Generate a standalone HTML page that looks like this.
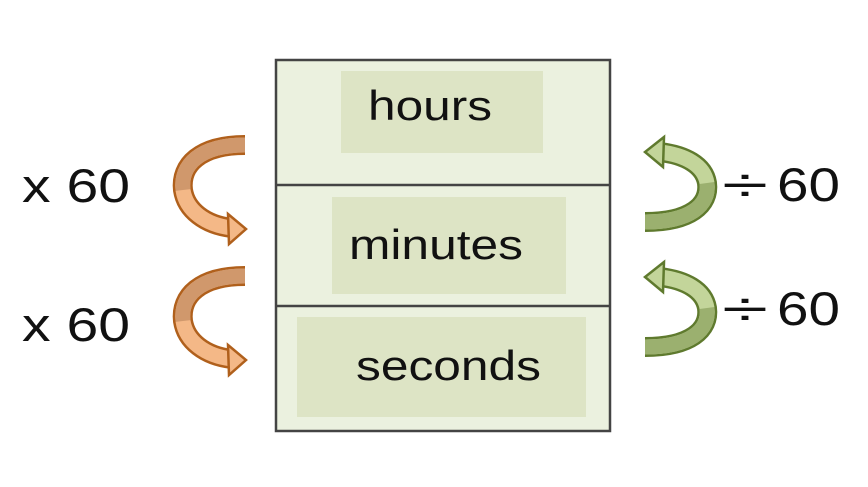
<!DOCTYPE html>
<html><head><style>
body{margin:0;width:868px;height:482px;background:#fff;overflow:hidden}
</style></head><body>
<svg width="868" height="482" xmlns="http://www.w3.org/2000/svg" font-family="Liberation Sans, Arial, sans-serif">
<rect x="276" y="60" width="334" height="371" fill="#ebf1df" stroke="#444" stroke-width="2.5"/>
<line x1="276" y1="185" x2="610" y2="185" stroke="#444" stroke-width="2.5"/>
<line x1="276" y1="306" x2="610" y2="306" stroke="#444" stroke-width="2.5"/>
<rect x="341" y="71" width="202" height="82" fill="#dde4c5"/>
<rect x="332" y="197" width="234" height="97" fill="#dde4c5"/>
<rect x="297" y="317" width="289" height="100" fill="#dde4c5"/>
<text x="368" y="120" font-size="42" fill="#111" textLength="124" lengthAdjust="spacingAndGlyphs">hours</text>
<text x="349" y="259" font-size="42" fill="#111" textLength="174" lengthAdjust="spacingAndGlyphs">minutes</text>
<text x="356" y="380" font-size="42" fill="#111" textLength="185" lengthAdjust="spacingAndGlyphs">seconds</text>
<text x="22" y="202" font-size="47" fill="#111" textLength="108" lengthAdjust="spacingAndGlyphs">x 60</text>
<text x="22" y="341" font-size="47" fill="#111" textLength="108" lengthAdjust="spacingAndGlyphs">x 60</text>
<text x="722" y="201" font-size="47" fill="#111" textLength="46" lengthAdjust="spacingAndGlyphs">÷</text>
<text x="777" y="201" font-size="47" fill="#111" textLength="63" lengthAdjust="spacingAndGlyphs">60</text>
<text x="722" y="325" font-size="47" fill="#111" textLength="46" lengthAdjust="spacingAndGlyphs">÷</text>
<text x="777" y="325" font-size="47" fill="#111" textLength="63" lengthAdjust="spacingAndGlyphs">60</text>
<g id="l1">
<path d="M245,145 C200,145 180,165 183,190 C186,210 205,225 232,228" fill="none" stroke="#b0601c" stroke-width="20"/>
<path d="M245,145 C200,145 180,165 183,190 C186,210 205,225 232,228" fill="none" stroke="#f4b887" stroke-width="15"/>
<path d="M245,145 C200,145 180,165 183,190" fill="none" stroke="#d0986c" stroke-width="15"/>
<polygon points="228,214 246,229 229,244" fill="#f4b887" stroke="#b0601c" stroke-width="2.5"/>
</g>
<use href="#l1" transform="translate(0,131)"/>
<g id="r1">
<path d="M645,222 C690,222 710,205 707,183 C704,165 685,155 660,152" fill="none" stroke="#5f7a2e" stroke-width="20"/>
<path d="M645,222 C690,222 710,205 707,183 C704,165 685,155 660,152" fill="none" stroke="#c3d59a" stroke-width="15"/>
<path d="M645,222 C690,222 710,205 707,183" fill="none" stroke="#9bb06f" stroke-width="15"/>
<polygon points="664,137 645,152 663,167" fill="#c3d59a" stroke="#5f7a2e" stroke-width="2.5"/>
</g>
<use href="#r1" transform="translate(0,125)"/>
</svg>
</body></html>
